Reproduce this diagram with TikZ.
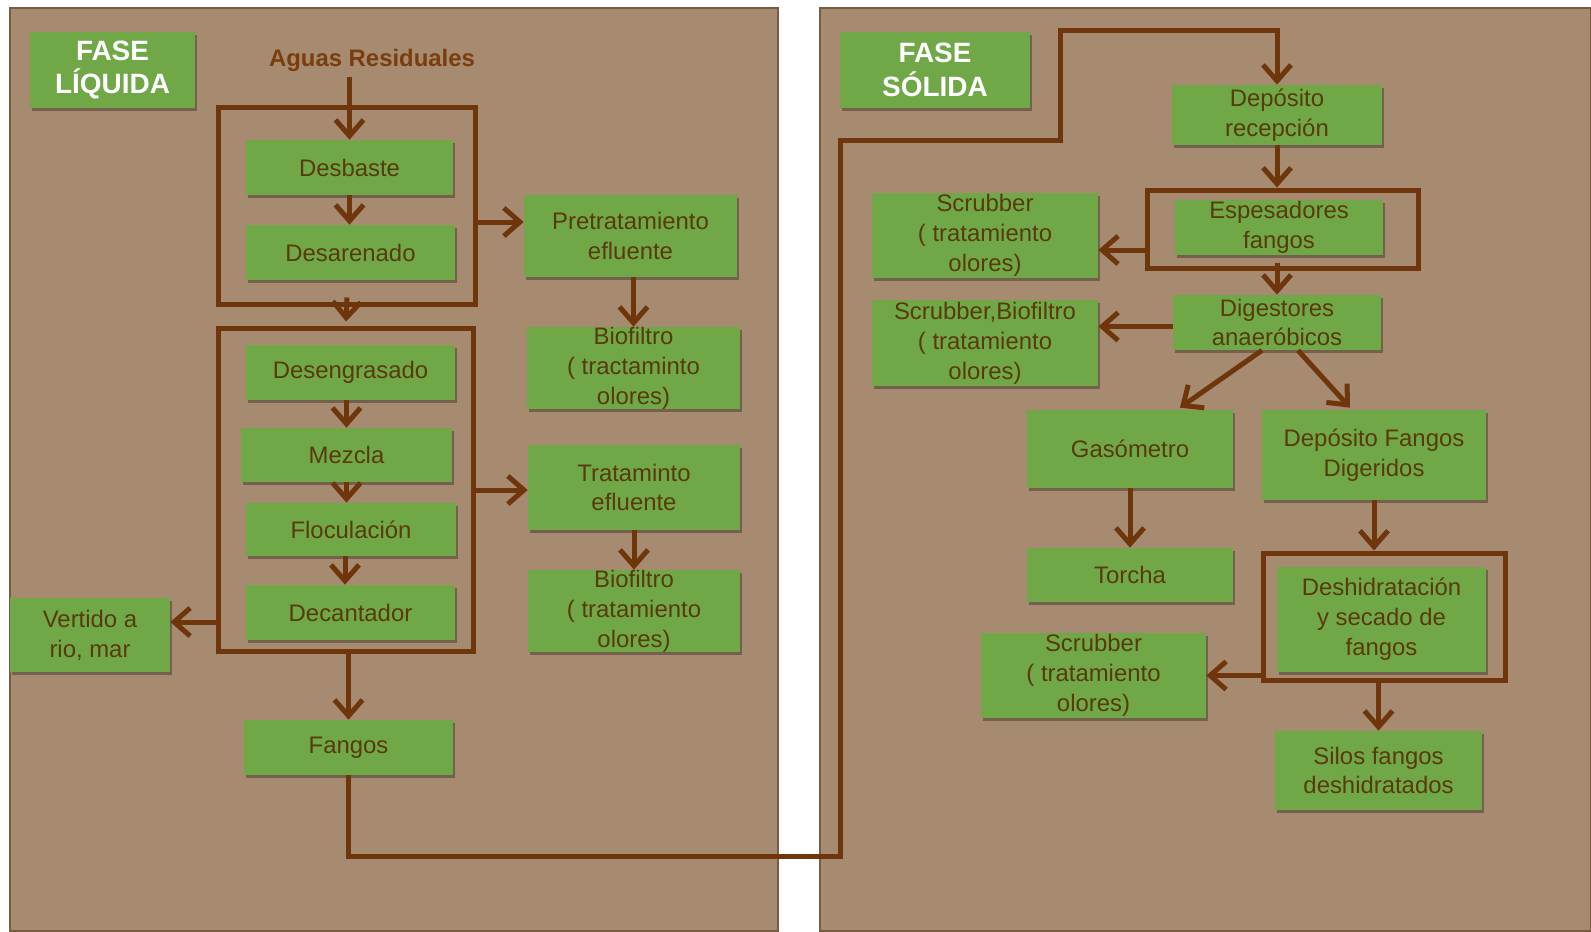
\documentclass[tikz,border=0pt]{standalone}
\usepackage{fontspec}
\setmainfont{Liberation Sans}
\usetikzlibrary{arrows.meta,calc,shadows}
\definecolor{fondo}{RGB}{166,139,112}
\definecolor{borde}{RGB}{120,92,66}
\definecolor{verde}{RGB}{112,168,72}
\definecolor{letra}{RGB}{88,58,12}
\definecolor{flecha}{RGB}{110,54,10}
\definecolor{agua}{RGB}{122,62,14}

\begin{document}
\begin{tikzpicture}[x=0.02cm,y=-0.02cm,
		caja/.style={fill=verde,text=letra,align=center,inner sep=0pt,
			font=\fontsize{13.6}{17}\selectfont,
			drop shadow={shadow xshift=0.04cm,shadow yshift=-0.05cm,fill=black,opacity=0.3}},
		fase/.style={caja,text=white,font=\fontsize{15.9}{19.3}\selectfont\bfseries},
		grupo/.style={draw=flecha,line width=0.1cm,inner sep=0pt},
		flujo/.style={draw=flecha,line width=0.1cm,-{Straight Barb[length=0.32cm,width=0.56cm]}}]
	\useasboundingbox (0,0) rectangle (1591,931);
	\fill[white] (0,0) rectangle (1591,931);
	\filldraw[fill=fondo,draw=borde,line width=0.03cm] (10,8) rectangle (778,931);
	\filldraw[fill=fondo,draw=borde,line width=0.03cm] (820,8) rectangle (1591,931);

	% fase liquida
	\node[fase,minimum width=3.3cm,minimum height=1.52cm] (fasel) at (112.5,70) {FASE\\LÍQUIDA};
	\node[font=\fontsize{13.6}{17}\selectfont\bfseries,text=agua] (aguas) at (372,60) {Aguas Residuales};
	\node[caja,minimum width=4.14cm,minimum height=1.1cm] (desbaste) at (349.5,167.5) {Desbaste};
	\node[caja,minimum width=4.18cm,minimum height=1.1cm] (desarenado) at (350.5,252.5) {Desarenado};
	\node[caja,minimum width=4.26cm,minimum height=1.64cm] (pretrat) at (630.5,236) {Pretratamiento\\efluente};
	\node[caja,minimum width=4.26cm,minimum height=1.6cm] (biof1) at (633.5,368) {Biofiltro\\( tractaminto\\olores)};
	\node[caja,minimum width=4.18cm,minimum height=1.1cm] (desengr) at (350.5,372.5) {Desengrasado};
	\node[caja,minimum width=4.22cm,minimum height=1.08cm] (mezcla) at (346.5,455) {Mezcla};
	\node[caja,minimum width=4.2cm,minimum height=1.06cm] (flocul) at (351,529.5) {Floculación};
	\node[caja,minimum width=4.18cm,minimum height=1.1cm] (decant) at (350.5,612.5) {Decantador};
	\node[caja,minimum width=4.24cm,minimum height=1.7cm] (tratam) at (634,487.5) {Trataminto\\efluente};
	\node[caja,minimum width=4.24cm,minimum height=1.64cm] (biof2) at (634,611) {Biofiltro\\( tratamiento\\olores)};
	\node[caja,minimum width=3.2cm,minimum height=1.48cm] (vertido) at (90,635) {Vertido a\\rio, mar};
	\node[caja,minimum width=4.18cm,minimum height=1.1cm] (fangos) at (348.5,747.5) {Fangos};
	\node[grupo,minimum width=5.16cm,minimum height=3.96cm] (grp1) at (347,206) {};
	\node[grupo,minimum width=5.12cm,minimum height=6.48cm] (grp2) at (346,490) {};

	% fase solida
	\node[fase,minimum width=3.8cm,minimum height=1.52cm] (fases) at (935,70) {FASE\\SÓLIDA};
	\node[caja,minimum width=4.2cm,minimum height=1.2cm] (deprec) at (1277,115) {Depósito\\recepción};
	\node[caja,minimum width=4.16cm,minimum height=1.1cm] (espes) at (1279,227.5) {Espesadores\\fangos};
	\node[caja,minimum width=4.52cm,minimum height=1.7cm] (scrub1) at (985,235.5) {Scrubber\\( tratamiento\\olores)};
	\node[caja,minimum width=4.16cm,minimum height=1.1cm] (digest) at (1277,322.5) {Digestores\\anaeróbicos};
	\node[caja,minimum width=4.52cm,minimum height=1.72cm] (scrub2) at (985,343) {Scrubber,Biofiltro\\( tratamiento\\olores)};
	\node[caja,minimum width=4.12cm,minimum height=1.56cm] (gaso) at (1130,449) {Gasómetro};
	\node[caja,minimum width=4.48cm,minimum height=1.8cm] (depfang) at (1374,455) {Depósito Fangos\\Digeridos};
	\node[caja,minimum width=4.12cm,minimum height=1.08cm] (torcha) at (1130,575) {Torcha};
	\node[caja,minimum width=4.18cm,minimum height=2.1cm] (deshid) at (1381.5,619.5) {Deshidratación\\y secado de\\fangos};
	\node[caja,minimum width=4.5cm,minimum height=1.7cm] (scrub3) at (1093.5,675.5) {Scrubber\\( tratamiento\\olores)};
	\node[caja,minimum width=4.14cm,minimum height=1.58cm] (silos) at (1378.5,770.5) {Silos fangos\\deshidratados};
	\node[grupo,minimum width=5.44cm,minimum height=1.56cm] (grp3) at (1283,229) {};
	\node[grupo,minimum width=4.84cm,minimum height=2.54cm] (grp4) at (1384,616.5) {};

	\coordinate (r1) at (840,856);
	\coordinate (r2) at (840,140);
	\coordinate (r3) at (1060,30);

	\draw[flujo] (aguas.south -| desbaste.north) -- (desbaste.north);
	\draw[flujo] (desbaste.south) -- (desbaste.south |- desarenado.north);
	\draw[flujo] ($(grp1.east)+(0,16)$) -- ($(grp1.east -| pretrat.west)+(0,16)$);
	\draw[flujo] ($(grp1.south)+(0,-10)$) -- ($(grp2.north)+(0,-4)$);
	\draw[flujo] (pretrat.south -| biof1.north) -- (biof1.north);
	\draw[flujo] (desengr.south -| mezcla.north) -- (mezcla.north);
	\draw[flujo] (mezcla.south) -- (mezcla.south |- flocul.north);
	\draw[flujo] ($(flocul.south)+(-6,0)$) -- ($(flocul.south |- decant.north)+(-6,0)$);
	\draw[flujo] (grp2.east) -- (grp2.east -| tratam.west);
	\draw[flujo] (tratam.south) -- (biof2.north);
	\draw[flujo] ($(grp2.west |- vertido.east)+(0,-13)$) -- ($(vertido.east)+(0,-13)$);
	\draw[flujo] (grp2.south -| fangos.north) -- (fangos.north);
	\draw[flujo] (fangos.south) |- (r1) -- (r2) -| (r3) -| (deprec.north);

	\draw[flujo] (deprec.south) -- (deprec.south |- grp3.north);
	\draw[flujo] ($(grp3.west)+(0,21)$) -- ($(grp3.west -| scrub1.east)+(0,21)$);
	\draw[flujo] ($(grp3.south -| digest.north)+(0,-8)$) -- (digest.north);
	\draw[flujo] ($(digest.west)+(0,4)$) -- ($(digest.west -| scrub2.east)+(0,4)$);
	\draw[flujo] ($(digest.south)+(-15,0)$) -- ($(gaso.north)+(50,-2)$);
	\draw[flujo] ($(digest.south)+(21,0)$) -- ($(depfang.north)+(-24,-2)$);
	\draw[flujo] (gaso.south) -- (torcha.north);
	\draw[flujo] (depfang.south) -- (depfang.south |- grp4.north);
	\draw[flujo] (grp4.west |- scrub3.east) -- (scrub3.east);
	\draw[flujo] (grp4.south -| silos.north) -- (silos.north);
\end{tikzpicture}
\end{document}
